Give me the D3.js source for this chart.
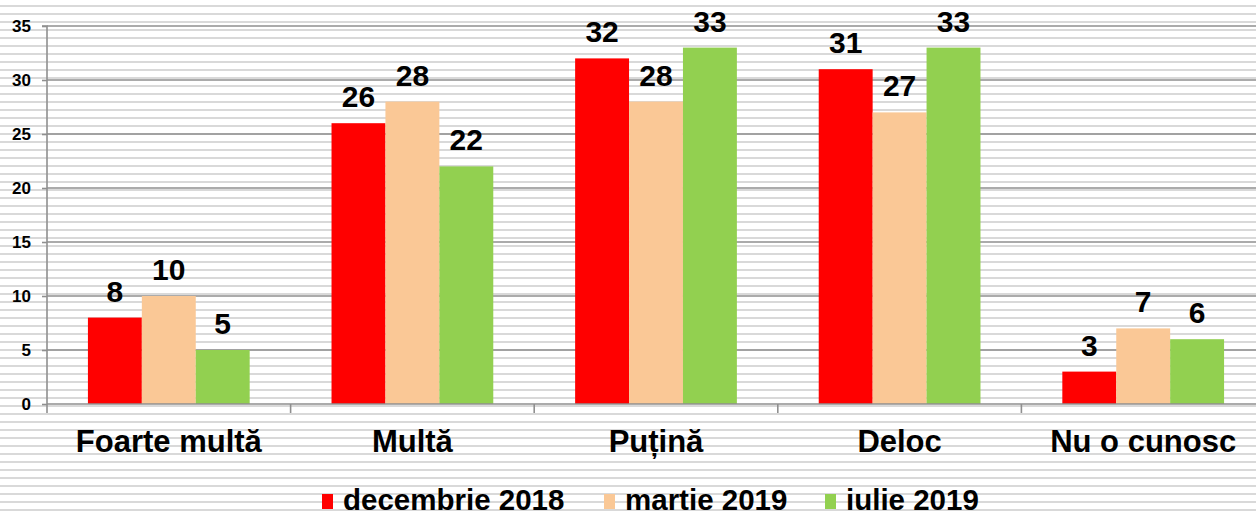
<!DOCTYPE html>
<html>
<head>
<meta charset="utf-8">
<script src="https://cdn.jsdelivr.net/npm/d3@7"></script>
<style>
  body { margin: 0; background: #fff; }
  svg { display: block; font-family: "Liberation Sans", Arial, sans-serif; font-weight: bold; }
</style>
</head>
<body>
<script>
const width = 1256;
const height = 513;

// date
const categories = ["Foarte multă", "Multă", "Puțină", "Deloc", "Nu o cunosc"];
const seriesNames = ["decembrie 2018", "martie 2019", "iulie 2019"];
const seriesColors = ["#ff0000", "#fac896", "#92d050"];
const dec2018 = [8, 26, 32, 31, 3];
const mar2019 = [10, 28, 28, 27, 7];
const iul2019 = [5, 22, 33, 33, 6];
const yTicks = [0, 5, 10, 15, 20, 25, 30, 35];

const seriesValues = [dec2018, mar2019, iul2019];

const svg = d3.select("body").append("svg")
  .attr("width", width)
  .attr("height", height);

// fundal cu dungi orizontale
const defs = svg.append("defs");
const pat = defs.append("pattern")
  .attr("id", "stripes")
  .attr("patternUnits", "userSpaceOnUse")
  .attr("width", 8).attr("height", 8)
  .attr("y", 5);
pat.append("rect").attr("width", 8).attr("height", 8).attr("fill", "#fff");
pat.append("rect").attr("width", 8).attr("height", 2).attr("fill", "#d9d9d9");

svg.append("rect")
  .attr("width", width).attr("height", height)
  .attr("fill", "url(#stripes)");

const x0 = 47, x1 = 1265;
const y = d3.scaleLinear().domain([0, 35]).range([404, 26]);

const x = d3.scaleBand().domain(categories).range([x0, x1]).padding(0);
const bw = x.bandwidth();
const xs = d3.scaleBand().domain(seriesNames)
  .range([bw * 0.168, bw * 0.832]).padding(0);

// linii de grila
svg.append("g").selectAll("line")
  .data(yTicks.filter(d => d > 0))
  .join("line")
  .attr("x1", x0).attr("x2", width)
  .attr("y1", d => y(d)).attr("y2", d => y(d))
  .attr("stroke", "#8f8f8f")
  .attr("stroke-width", 1.6);

// axa Y
const yAxis = svg.append("g")
  .attr("transform", `translate(${x0},0)`)
  .call(d3.axisLeft(y).tickValues(yTicks).tickSize(5).tickPadding(11));
yAxis.select(".domain").attr("stroke", "#8f8f8f").attr("stroke-width", 1.6)
  .attr("d", `M-5,${y(35)}H0V413`);
yAxis.selectAll(".tick line").attr("stroke", "#8f8f8f").attr("stroke-width", 1.6);
yAxis.selectAll(".tick text")
  .attr("font-size", 17).attr("font-weight", "bold").attr("fill", "#000")
  .attr("font-family", "Liberation Sans, Arial, sans-serif");

// bare
const groups = svg.append("g").selectAll("g")
  .data(categories)
  .join("g")
  .attr("transform", d => `translate(${x(d)},0)`);

groups.selectAll("rect")
  .data((c, i) => seriesNames.map((s, j) => ({ s, j, v: seriesValues[j][i] })))
  .join("rect")
  .attr("x", d => xs(d.s))
  .attr("width", xs.bandwidth())
  .attr("y", d => y(d.v))
  .attr("height", d => y(0) - y(d.v))
  .attr("fill", d => seriesColors[d.j]);

groups.selectAll("text")
  .data((c, i) => seriesNames.map((s, j) => ({ s, j, v: seriesValues[j][i] })))
  .join("text")
  .attr("x", d => xs(d.s) + xs.bandwidth() / 2)
  .attr("y", d => y(d.v) - 16)
  .attr("text-anchor", "middle")
  .attr("font-size", 30)
  .text(d => d.v);

// axa X
svg.append("line")
  .attr("x1", x0).attr("x2", width)
  .attr("y1", y(0)).attr("y2", y(0))
  .attr("stroke", "#8f8f8f").attr("stroke-width", 1.6);

svg.append("g").selectAll("line")
  .data(categories.slice(1))
  .join("line")
  .attr("x1", d => x(d)).attr("x2", d => x(d))
  .attr("y1", y(0)).attr("y2", 413)
  .attr("stroke", "#8f8f8f").attr("stroke-width", 1.6);

svg.append("g").selectAll("text")
  .data(categories)
  .join("text")
  .attr("x", d => x(d) + bw / 2)
  .attr("y", 452)
  .attr("text-anchor", "middle")
  .attr("font-size", 31)
  .text(d => d);

// legenda
const legendX = [322, 604, 825];
const legend = svg.append("g").selectAll("g")
  .data(seriesNames)
  .join("g")
  .attr("transform", (d, i) => `translate(${legendX[i]},0)`);

legend.append("rect")
  .attr("x", 0).attr("y", 494)
  .attr("width", 11).attr("height", 15)
  .attr("fill", (d, i) => seriesColors[i]);

legend.append("text")
  .attr("x", 21).attr("y", 510)
  .attr("font-size", 29.5)
  .text(d => d);
</script>
</body>
</html>
